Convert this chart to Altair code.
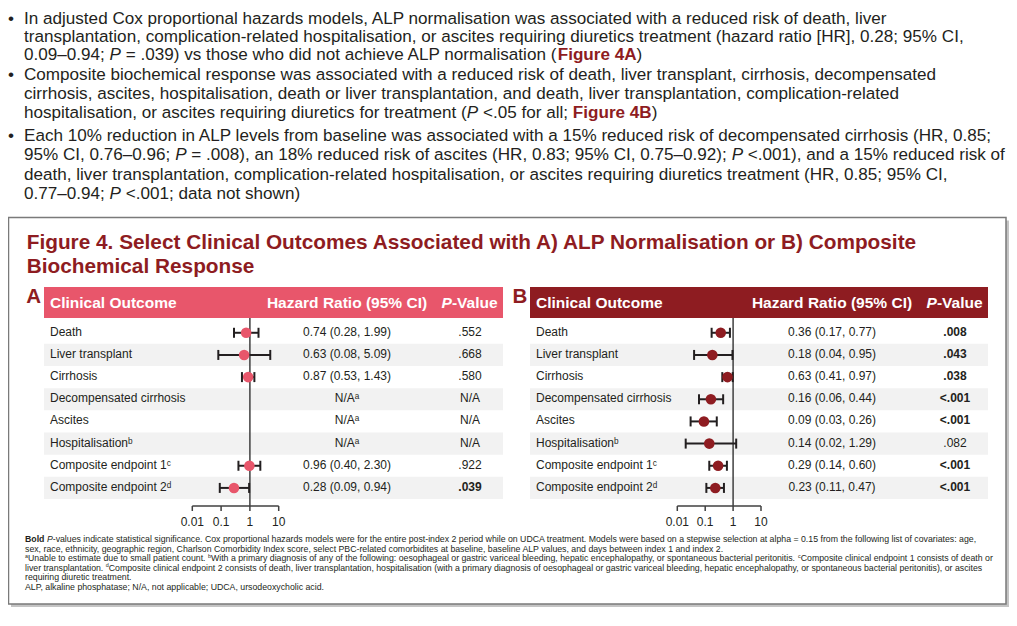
import re
import altair as alt
import pandas as pd

# ---------------- data ----------------
outcomes = ["Death", "Liver transplant", "Cirrhosis", "Decompensated cirrhosis",
            "Ascites", "Hospitalisationᵇ", "Composite endpoint 1ᶜ", "Composite endpoint 2ᵈ"]

a_hr = [0.74, 0.63, 0.87, None, None, None, 0.96, 0.28]
a_lo = [0.28, 0.08, 0.53, None, None, None, 0.40, 0.09]
a_hi = [1.99, 5.09, 1.43, None, None, None, 2.30, 0.94]
a_p = [".552", ".668", ".580", "N/A", "N/A", "N/A", ".922", ".039"]

b_hr = [0.36, 0.18, 0.63, 0.16, 0.09, 0.14, 0.29, 0.23]
b_lo = [0.17, 0.04, 0.41, 0.06, 0.03, 0.02, 0.14, 0.11]
b_hi = [0.77, 0.95, 0.97, 0.44, 0.26, 1.29, 0.60, 0.47]
b_p = [".008", ".043", ".038", "<.001", "<.001", ".082", "<.001", "<.001"]

tick_values = [0.01, 0.1, 1, 10]
tick_labels = ["0.01", "0.1", "1", "10"]
na_text = "N/Aᵃ"

title_lines = ["Figure 4. Select Clinical Outcomes Associated with A) ALP Normalisation or B) Composite",
               "Biochemical Response"]
panel_letters = ["A", "B"]
header_cols = ["Clinical Outcome", "Hazard Ratio (95% CI)", "P", "-Value"]

bullet_lines = [
    ["In adjusted Cox proportional hazards models, ALP normalisation was associated with a reduced risk of death, liver",
     "transplantation, complication-related hospitalisation, or ascites requiring diuretics treatment (hazard ratio [HR], 0.28; 95% CI,",
     "0.09–0.94; P = .039) vs those who did not achieve ALP normalisation (Figure 4A)"],
    ["Composite biochemical response was associated with a reduced risk of death, liver transplant, cirrhosis, decompensated",
     "cirrhosis, ascites, hospitalisation, death or liver transplantation, and death, liver transplantation, complication-related",
     "hospitalisation, or ascites requiring diuretics for treatment (P <.05 for all; Figure 4B)"],
    ["Each 10% reduction in ALP levels from baseline was associated with a 15% reduced risk of decompensated cirrhosis (HR, 0.85;",
     "95% CI, 0.76–0.96; P = .008), an 18% reduced risk of ascites (HR, 0.83; 95% CI, 0.75–0.92); P <.001), and a 15% reduced risk of",
     "death, liver transplantation, complication-related hospitalisation, or ascites requiring diuretics treatment (HR, 0.85; 95% CI,",
     "0.77–0.94; P <.001; data not shown)"],
]

footnote_lines = [
    "Bold P-values indicate statistical significance. Cox proportional hazards models were for the entire post-index 2 period while on UDCA treatment. Models were based on a stepwise selection at alpha = 0.15 from the following list of covariates: age,",
    "sex, race, ethnicity, geographic region, Charlson Comorbidity Index score, select PBC-related comorbidites at baseline, baseline ALP values, and days between index 1 and index 2.",
    "ᵃUnable to estimate due to small patient count. ᵇWith a primary diagnosis of any of the following: oesophageal or gastric variceal bleeding, hepatic encephalopathy, or spontaneous bacterial peritonitis. ᶜComposite clinical endpoint 1 consists of death or",
    "liver transplantation. ᵈComposite clinical endpoint 2 consists of death, liver transplantation, hospitalisation (with a primary diagnosis of oesophageal or gastric variceal bleeding, hepatic encephalopathy, or spontaneous bacterial peritonitis), or ascites",
    "requiring diuretic treatment.",
    "ALP, alkaline phosphatase; N/A, not applicable; UDCA, ursodeoxycholic acid.",
]

# ---------------- style / layout ----------------
FONT = "Liberation Sans"
INK = "#231F20"
PINK = "#E8566B"
DRED = "#8E1C21"
SHADE = "#F2F2F2"
AXIS = "#404040"
OX, OY = 8, 8           # page margin
W, H = 1001, 605
SUP = {"ᵃ": "a", "ᵇ": "b", "ᶜ": "c", "ᵈ": "d"}

_REG_CH = " !\"#$%&'()*+,-./0123456789:;<=>?@ABCDEFGHIJKLMNOPQRSTUVWXYZ[\\]^_`abcdefghijklmnopqrstuvwxyz{|}~"
_REG_W = [278, 278, 355, 556, 556, 889, 667, 191, 333, 333, 389, 584, 278, 333, 278, 278] + [556] * 10 + \
         [278, 278, 584, 584, 584, 556, 1015,
          667, 667, 722, 722, 667, 611, 778, 722, 278, 500, 667, 556, 833, 722, 778, 667, 778, 722, 667, 611, 722, 667, 944, 667, 667, 611,
          278, 278, 278, 469, 556, 333,
          556, 556, 500, 556, 556, 278, 556, 556, 222, 222, 500, 222, 833, 556, 556, 556, 556, 333, 500, 278, 556, 500, 722, 500, 500, 500,
          334, 260, 334, 584]
_BLD_W = [278, 333, 474, 556, 556, 889, 722, 238, 333, 333, 389, 584, 278, 333, 278, 278] + [556] * 10 + \
         [333, 333, 584, 584, 584, 611, 975,
          722, 722, 722, 722, 667, 611, 778, 722, 278, 556, 722, 611, 833, 722, 778, 667, 778, 722, 667, 611, 722, 667, 944, 667, 667, 611,
          333, 278, 333, 584, 556, 333,
          556, 611, 556, 611, 556, 333, 611, 611, 278, 278, 556, 278, 889, 611, 611, 611, 611, 389, 556, 333, 611, 556, 778, 556, 556, 500,
          389, 280, 389, 584]
REG = dict(zip(_REG_CH, _REG_W))
BLD = dict(zip(_REG_CH, _BLD_W))


def tw(s, size, bold=False):
    tbl = BLD if bold else REG
    return sum(tbl.get(c, 556) for c in s) * size / 1000.0


def T(s, x, y, size, color=INK, weight="normal", style="normal", align="left", baseline="middle"):
    return alt.Chart(pd.DataFrame({"t": [s]})).mark_text(
        font=FONT, fontSize=size, fontWeight=weight, fontStyle=style,
        align=align, baseline=baseline, color=color
    ).encode(x=alt.value(x - OX), y=alt.value(y - OY), text="t:N")


def R(x0, y0, x1, y1, fill, stroke=None, sw=0, opacity=1.0):
    kw = dict(color=fill, opacity=opacity)
    if stroke:
        kw.update(stroke=stroke, strokeWidth=sw)
    return alt.Chart(pd.DataFrame({"k": [0]})).mark_rect(**kw).encode(
        x=alt.value(x0 - OX), x2=alt.value(x1 - OX), y=alt.value(y0 - OY), y2=alt.value(y1 - OY))


RICH = re.compile(r"(Figure 4[AB]|^Bold|\bP(?= [=<])|\bP(?=-values)|[ᵃᵇᶜᵈ])")


def rich_parts(line):
    parts, pos = [], 0
    for m in RICH.finditer(line):
        if m.start() > pos:
            parts.append((line[pos:m.start()], "normal", "normal", None))
        tok = m.group(0)
        if tok.startswith("Figure"):
            parts.append((tok, "bold", "normal", DRED))
        elif tok == "Bold":
            parts.append((tok, "bold", "normal", None))
        elif tok in SUP:
            parts.append((SUP[tok], "normal", "sup", None))
        else:
            parts.append((tok, "normal", "italic", None))
        pos = m.end()
    if pos < len(line):
        parts.append((line[pos:], "normal", "normal", None))
    return parts


def segs(parts, x, y, size, color=INK, baseline="alphabetic"):
    out = []
    for s, w, st, col in parts:
        if st == "sup":
            ss = size * 0.62
            out.append(T(s, x, y - size * 0.36, ss, col or color, baseline=baseline))
            x += tw(s, ss)
            continue
        core = s.lstrip(" ")
        lead = tw(s[:len(s) - len(core)], size, w == "bold")
        if core.strip():
            out.append(T(core.rstrip(" "), x + lead, y, size, col or color, w, st, baseline=baseline))
        x += tw(s, size, w == "bold")
    return out


layers = []

# ---------- bullets ----------
B_SIZE = 17.1
bullet_base = [[23.5, 41.5, 59.5], [79.5, 98.5, 117.5], [140.5, 160, 179.5, 199]]
for bl, ys in zip(bullet_lines, bullet_base):
    layers.append(T("•", 11, ys[0], B_SIZE, INK, align="center", baseline="alphabetic"))
    for line, yy in zip(bl, ys):
        layers += segs(rich_parts(line), 24, yy, B_SIZE)

# ---------- figure box ----------
layers.append(R(11, 220.5, 1009, 607, "#B5B5B5", opacity=0.8))
layers.append(R(8.5, 217.5, 1006, 604, "white", stroke="#7A7A7A", sw=1.5))

for i, tl in enumerate(title_lines):
    layers.append(T(tl, 26.7, 243 + i * 23.5, 20.8, DRED, weight="bold"))

ROW_TOP, ROW_BOT = 321.7, 499.0
yscale = alt.Scale(type="band", domain=outcomes, range=[ROW_TOP - OY, ROW_BOT - OY],
                   paddingInner=0, paddingOuter=0)
Y = alt.Y("outcome:N", scale=yscale, axis=None)


def panel(letter, hr, lo, hi, pv, xr, color, bar_x0, bar_x1, letter_x, lab_x, hr_x, p_x):
    out = []
    df = pd.DataFrame({"outcome": outcomes, "hr": hr, "lo": lo, "hi": hi, "p": pv})
    df["hr_txt"] = [f"{h:.2f} ({l:.2f}, {u:.2f})" if pd.notna(h) else na_text
                    for h, l, u in zip(df.hr, df.lo, df.hi)]
    df["sig"] = [p != "N/A" and float(p.lstrip("<")) < 0.05 for p in pv]
    df["shade"] = [i % 2 == 1 for i in range(len(outcomes))]
    valid = df.dropna(subset=["hr"])
    xs = alt.Scale(type="log", domain=[tick_values[0], tick_values[-1]], range=xr)

    # shaded rows
    out.append(alt.Chart(df[df.shade]).mark_rect(color=SHADE).encode(
        x=alt.value(bar_x0 - OX), x2=alt.value(bar_x1 - OX), y=Y))
    # header
    out.append(R(bar_x0, 287, bar_x1, 318, color))
    out.append(T(letter, letter_x, 297, 20.5, DRED, weight="bold", align="center"))
    hy = 302.5
    out.append(T(header_cols[0], lab_x, hy, 15.5, "white", weight="bold"))
    out.append(T(header_cols[1], hr_x, hy, 15.5, "white", weight="bold", align="center"))
    pw = tw(header_cols[2], 15.5, True) + tw(header_cols[3], 15.5, True)
    out += segs([(header_cols[2], "bold", "italic", "white"), (header_cols[3], "bold", "normal", "white")],
                p_x - pw / 2, hy, 15.5, baseline="middle")

    # reference line at HR = 1 and axis
    out.append(alt.Chart(pd.DataFrame({"v": [1]})).mark_rule(color=AXIS, strokeWidth=1.5).encode(
        x=alt.X("v:Q", scale=xs, axis=None), y=alt.value(318 - OY), y2=alt.value(506 - OY)))
    out.append(alt.Chart(pd.DataFrame({"a": [tick_values[0]], "b": [tick_values[-1]]})).mark_rule(
        color=AXIS, strokeWidth=1.5).encode(
        x=alt.X("a:Q", scale=xs, axis=None), x2="b:Q", y=alt.value(506 - OY)))
    tk = pd.DataFrame({"t": tick_values, "lab": tick_labels})
    out.append(alt.Chart(tk).mark_rule(color=AXIS, strokeWidth=1.5).encode(
        x=alt.X("t:Q", scale=xs, axis=None), y=alt.value(506 - OY), y2=alt.value(511 - OY)))
    out.append(alt.Chart(tk).mark_text(font=FONT, fontSize=12, color=INK, baseline="middle").encode(
        x=alt.X("t:Q", scale=xs, axis=None), y=alt.value(521.5 - OY), text="lab:N"))

    # CI bars, caps, points
    out.append(alt.Chart(valid).mark_rule(color=INK, strokeWidth=2).encode(
        x=alt.X("lo:Q", scale=xs, axis=None), x2="hi:Q", y=Y))
    for f in ["lo", "hi"]:
        out.append(alt.Chart(valid).mark_tick(color=INK, thickness=2, size=10, opacity=1).encode(
            x=alt.X(f"{f}:Q", scale=xs, axis=None), y=Y))
    out.append(alt.Chart(valid).mark_circle(color=color, size=112, opacity=1).encode(
        x=alt.X("hr:Q", scale=xs, axis=None), y=Y))

    # table text
    out.append(alt.Chart(df).mark_text(font=FONT, fontSize=12, color=INK, align="left", dy=-1).encode(
        x=alt.value(lab_x - OX), y=Y, text="outcome:N"))
    out.append(alt.Chart(df).mark_text(font=FONT, fontSize=12, color=INK, align="center", dy=-1).encode(
        x=alt.value(hr_x - OX), y=Y, text="hr_txt:N"))
    out.append(alt.Chart(df[~df.sig]).mark_text(font=FONT, fontSize=12, color=INK, align="center", dy=-1).encode(
        x=alt.value(p_x - OX), y=Y, text="p:N"))
    if df.sig.any():
        out.append(alt.Chart(df[df.sig]).mark_text(font=FONT, fontSize=12, color=INK, align="center",
                                                   fontWeight="bold", dy=-1).encode(
            x=alt.value(p_x - OX), y=Y, text="p:N"))
    return out


layers += panel(panel_letters[0], a_hr, a_lo, a_hi, a_p, [192.3 - OX, 278.7 - OX], PINK,
                44, 503, 33.7, 50, 347, 470)
layers += panel(panel_letters[1], b_hr, b_lo, b_hi, b_p, [677.3 - OX, 761 - OX], DRED,
                530, 988, 520, 536, 832, 955)

# ---------- footnotes ----------
F_SIZE = 8.75
for i, fl in enumerate(footnote_lines):
    layers += segs(rich_parts(fl), 25, 542 + i * 9.5, F_SIZE)

chart = alt.layer(*layers).resolve_scale(x="independent").properties(
    width=W, height=H, padding=0, autosize="none"
).configure_view(strokeWidth=0)

chart.save("out.html", embed_options={"renderer": "svg", "actions": False})
